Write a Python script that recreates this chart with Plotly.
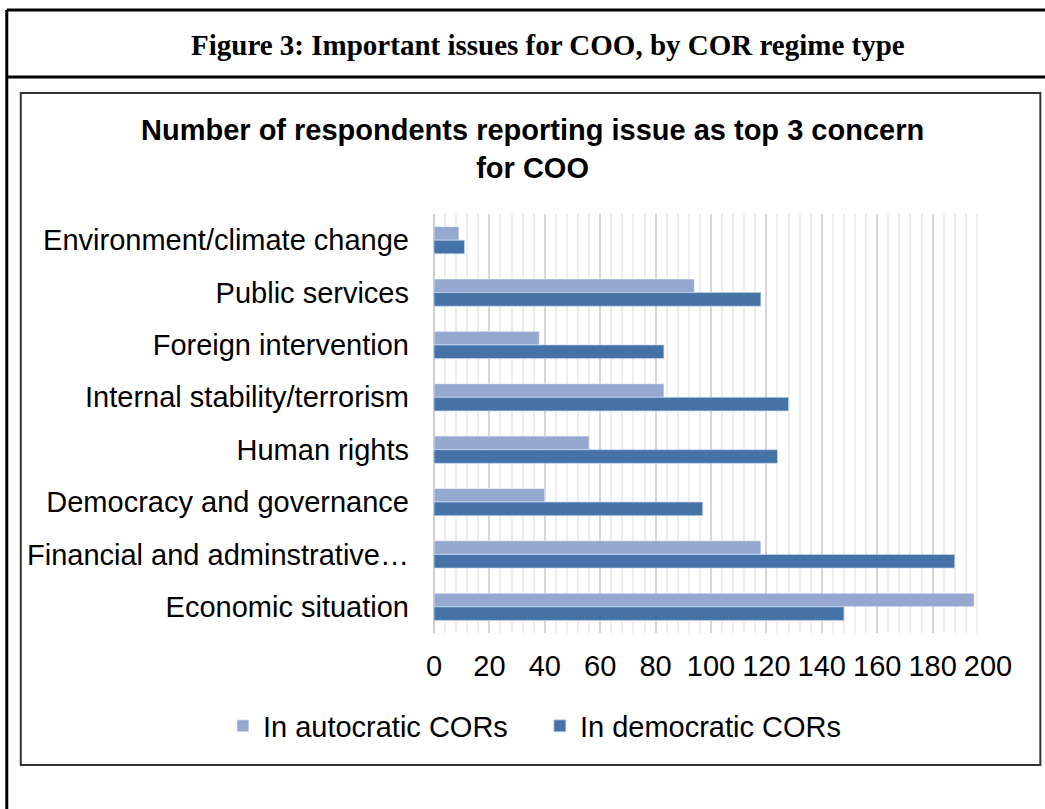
import plotly.graph_objects as go

# Issues, listed top to bottom as they appear on the chart
issues = [
    "Environment/climate change",
    "Public services",
    "Foreign intervention",
    "Internal stability/terrorism",
    "Human rights",
    "Democracy and governance",
    "Financial and adminstrative…",
    "Economic situation",
]

# Respondents naming each issue among their top 3 concerns
autocratic = [9, 94, 38, 83, 56, 40, 118, 195]
democratic = [11, 118, 83, 128, 124, 97, 188, 148]

series_names = ["In autocratic CORs", "In democratic CORs"]
x_ticks = list(range(0, 201, 20))

FIG_W, FIG_H = 1045, 809
PLOT_L, PLOT_R, PLOT_T, PLOT_B = 434, 987.7, 214, 633


def px_x(x):
    return (x - PLOT_L) / (PLOT_R - PLOT_L)


def px_y(y):
    return (PLOT_B - y) / (PLOT_B - PLOT_T)


SANS = "Liberation Sans, Arial, sans-serif"
SERIF = "Liberation Serif, Times New Roman, serif"
TXT = 29

fig = go.Figure()
fig.add_trace(go.Bar(
    y=issues, x=autocratic, orientation="h", name=series_names[0],
    marker=dict(color="#95a9d0", line=dict(color="rgba(255,255,255,0.55)", width=1)),
))
fig.add_trace(go.Bar(
    y=issues, x=democratic, orientation="h", name=series_names[1],
    marker=dict(color="#4673a7", line=dict(color="rgba(200,215,240,0.7)", width=1)),
))

fig.update_layout(
    width=FIG_W, height=FIG_H,
    margin=dict(l=PLOT_L, r=FIG_W - PLOT_R, t=PLOT_T, b=FIG_H - PLOT_B, pad=0,
                autoexpand=False),
    paper_bgcolor="white", plot_bgcolor="white",
    barmode="group", bargap=0.48, bargroupgap=0,
    font=dict(family=SANS, size=TXT, color="#000000"),
    showlegend=True,
    legend=dict(
        orientation="h", x=px_x(223), y=px_y(726),
        xanchor="left", yanchor="middle",
        font=dict(family=SANS, size=TXT, color="#000000"),
        bgcolor="rgba(0,0,0,0)",
        itemwidth=30, entrywidth=272, entrywidthmode="pixels",
    ),
)

fig.update_xaxes(
    range=[0, 200], tickvals=x_ticks, ticktext=[str(v) for v in x_ticks],
    showgrid=True, gridcolor="#d6d6d6", gridwidth=1.6,
    minor=dict(dtick=4, showgrid=True, gridcolor="#eeeeee", gridwidth=1.6),
    zeroline=True, zerolinecolor="#cfcfcf", zerolinewidth=2,
    showline=False, ticks="", ticklabelstandoff=13,
    tickfont=dict(family=SANS, size=TXT, color="#000000"),
    fixedrange=True,
)
fig.update_yaxes(
    categoryorder="array", categoryarray=issues, autorange="reversed",
    showgrid=False, zeroline=False, showline=False, ticks="",
    ticklabelstandoff=24,
    tickfont=dict(family=SANS, size=TXT, color="#000000"),
    fixedrange=True,
)

# Chart title inside the chart box
fig.add_annotation(
    xref="paper", yref="paper", x=px_x(532), y=px_y(149),
    xanchor="center", yanchor="middle", showarrow=False,
    text="<b>Number of respondents reporting issue as top 3 concern<br>for COO</b>",
    font=dict(family=SANS, size=TXT, color="#000000"),
)

# Figure caption in the header row
fig.add_annotation(
    xref="paper", yref="paper", x=px_x(548), y=px_y(45),
    xanchor="center", yanchor="middle", showarrow=False,
    text="<b>Figure 3: Important issues for COO, by COR regime type</b>",
    font=dict(family=SERIF, size=29, color="#000000"),
)

frame = dict(color="#000000", width=3)
shapes = [
    # outer table frame: top edge, header divider, left edge
    dict(type="line", xref="paper", yref="paper",
         x0=px_x(7), x1=px_x(1120), y0=px_y(10), y1=px_y(10), line=frame),
    dict(type="line", xref="paper", yref="paper",
         x0=px_x(7), x1=px_x(1120), y0=px_y(77), y1=px_y(77), line=frame),
    dict(type="line", xref="paper", yref="paper",
         x0=px_x(7), x1=px_x(7), y0=px_y(10), y1=px_y(830), line=frame),
    # chart box
    dict(type="rect", xref="paper", yref="paper",
         x0=px_x(21), x1=px_x(1040), y0=px_y(93), y1=px_y(765),
         line=dict(color="#333333", width=2)),
]
fig.update_layout(shapes=shapes)

fig.write_html("out.html")
